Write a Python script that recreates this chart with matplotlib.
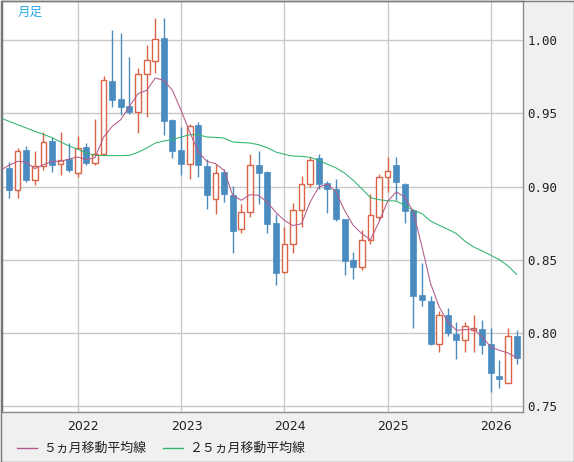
import matplotlib
matplotlib.use('Agg')
import matplotlib.pyplot as plt
import numpy as np
from matplotlib.lines import Line2D
from matplotlib.patches import Rectangle

# monthly candles, May 2021 .. Apr 2026
opens = [0.9128, 0.8980, 0.9248, 0.9048, 0.9143, 0.9310, 0.9155, 0.9187, 0.9093, 0.9269,
         0.9162, 0.9223, 0.9720, 0.9597, 0.9549, 0.9512, 0.9772, 0.9861, 1.0013, 0.9453,
         0.9248, 0.9155, 0.9419, 0.9139, 0.8916, 0.9098, 0.8941, 0.8711, 0.8829, 0.9146,
         0.9098, 0.8750, 0.8417, 0.8608, 0.8843, 0.9016, 0.9194, 0.9023, 0.8982, 0.8779,
         0.8497, 0.8451, 0.8633, 0.8793, 0.9068, 0.9146, 0.9016, 0.8838, 0.8260, 0.8217,
         0.7928, 0.8121, 0.7991, 0.7955, 0.8023, 0.8030, 0.7923, 0.7709, 0.7661, 0.7982]
highs = [0.9166, 0.9262, 0.9278, 0.9241, 0.9371, 0.9337, 0.9371, 0.9296, 0.9344, 0.9296,
         0.9460, 0.9758, 1.0068, 1.0047, 0.9883, 0.9808, 0.9965, 1.0150, 1.0150, 0.9460,
         0.9408, 0.9430, 0.9439, 0.9191, 0.9157, 0.9118, 0.9002, 0.8879, 0.9225, 0.9241,
         0.9109, 0.8816, 0.8727, 0.8888, 0.9073, 0.9203, 0.9221, 0.9036, 0.9050, 0.8781,
         0.8551, 0.8702, 0.8952, 0.9084, 0.9200, 0.9200, 0.9027, 0.8850, 0.8476, 0.8251,
         0.8148, 0.8171, 0.8076, 0.8073, 0.8121, 0.8087, 0.8037, 0.7814, 0.8037, 0.8019]
lows = [0.8923, 0.8923, 0.9032, 0.9011, 0.9112, 0.9098, 0.9080, 0.9098, 0.9066, 0.9148,
        0.9148, 0.9214, 0.9544, 0.9487, 0.9496, 0.9367, 0.9476, 0.9776, 0.9353, 0.9196,
        0.9080, 0.9050, 0.9066, 0.8845, 0.8813, 0.8893, 0.8547, 0.8684, 0.8793, 0.8884,
        0.8684, 0.8328, 0.8410, 0.8549, 0.8724, 0.8998, 0.8982, 0.8820, 0.8763, 0.8394,
        0.8369, 0.8433, 0.8608, 0.8770, 0.8964, 0.8911, 0.8752, 0.8035, 0.8185, 0.7916,
        0.7871, 0.7978, 0.7823, 0.7873, 0.7873, 0.7859, 0.7597, 0.7625, 0.7661, 0.7786]
closes = [0.8975, 0.9246, 0.9043, 0.9143, 0.9307, 0.9146, 0.9184, 0.9112, 0.9266, 0.9162,
          0.9223, 0.9731, 0.9592, 0.9544, 0.9512, 0.9772, 0.9867, 1.0011, 0.9449, 0.9244,
          0.9155, 0.9417, 0.9148, 0.8943, 0.9096, 0.8950, 0.8697, 0.8829, 0.9150, 0.9093,
          0.8745, 0.8410, 0.8611, 0.8843, 0.9016, 0.9184, 0.9018, 0.8984, 0.8777, 0.8492,
          0.8451, 0.8633, 0.8809, 0.9068, 0.9109, 0.9032, 0.8834, 0.8253, 0.8226, 0.7923,
          0.8121, 0.8000, 0.7953, 0.8051, 0.8037, 0.7921, 0.7727, 0.7689, 0.7982, 0.7830]

# moving averages, Apr 2021 .. Apr 2026 (first point is just off the left edge)
ma5 = [0.9112, 0.9146, 0.9173, 0.9168, 0.9123, 0.9150, 0.9173, 0.9173, 0.9189, 0.9203,
       0.9184, 0.9198, 0.9339, 0.9412, 0.9458, 0.9549, 0.9635, 0.9658, 0.9742, 0.9726,
       0.9658, 0.9521, 0.9373, 0.9237, 0.9173, 0.9157, 0.9112, 0.8941, 0.8907, 0.8945,
       0.8941, 0.8895, 0.8825, 0.8770, 0.8734, 0.8747, 0.8895, 0.8998, 0.9016, 0.8964,
       0.8838, 0.8736, 0.8679, 0.8638, 0.8759, 0.8900, 0.8964, 0.8929, 0.8827, 0.8588,
       0.8337, 0.8178, 0.8076, 0.8019, 0.8023, 0.8030, 0.7973, 0.7905, 0.7882, 0.7864,
       0.7832]
ma25 = [0.9471, 0.9446, 0.9424, 0.9401, 0.9378, 0.9357, 0.9335, 0.9305, 0.9278, 0.9255,
        0.9230, 0.9214, 0.9212, 0.9212, 0.9212, 0.9214, 0.9235, 0.9264, 0.9298, 0.9312,
        0.9321, 0.9339, 0.9355, 0.9355, 0.9339, 0.9337, 0.9332, 0.9305, 0.9301, 0.9298,
        0.9287, 0.9266, 0.9237, 0.9221, 0.9209, 0.9207, 0.9200, 0.9180, 0.9153, 0.9128,
        0.9093, 0.9043, 0.8986, 0.8925, 0.8911, 0.8904, 0.8902, 0.8872, 0.8838, 0.8816,
        0.8765, 0.8736, 0.8709, 0.8679, 0.8627, 0.8588, 0.8561, 0.8531, 0.8501, 0.8458,
        0.8401]

years = ['2022', '2023', '2024', '2025', '2026']
year_idx = [8, 20, 32, 44, 56]  # January candles
yticks = [0.75, 0.80, 0.85, 0.90, 0.95, 1.00]

up_col = '#dc6446'
down_col = '#4b8cc0'
ma5_col = '#b45a8a'
ma25_col = '#2fb46e'
grid_col = '#c8c8c8'
border_col = '#7c7c7c'
cjk = ['Noto Sans CJK JP', 'DejaVu Sans']

W, H = 574, 462
fig = plt.figure(figsize=(W / 100, H / 100), dpi=100, facecolor='#f0f0f0')
ax = fig.add_axes([1.5 / W, (H - 412) / H, (523.3 - 1.5) / W, 411 / H])
ax.set_facecolor('white')

x = np.arange(len(opens))
o = np.array(opens); c = np.array(closes)
up = c >= o

ax.vlines(x[up], np.array(lows)[up], np.array(highs)[up], color=up_col, lw=1.0, zorder=3)
ax.vlines(x[~up], np.array(lows)[~up], np.array(highs)[~up], color=down_col, lw=1.0, zorder=3)
ax.bar(x[up], (c - o)[up], bottom=o[up], width=0.66, facecolor='white',
       edgecolor=up_col, linewidth=1.0, zorder=4)
ax.bar(x[~up], (o - c)[~up], bottom=c[~up], width=0.70, facecolor=down_col,
       edgecolor=down_col, linewidth=0.5, zorder=4)

ma_x = np.arange(-1, len(opens))
ax.plot(ma_x, ma25, color=ma25_col, lw=0.75, zorder=5)
ax.plot(ma_x, ma5, color=ma5_col, lw=0.75, zorder=5)

ax.set_xlim(-0.87, 59.77)
ax.set_ylim(0.7461, 1.0268)

for v in yticks:
    ax.axhline(v, color=grid_col, lw=1.0, zorder=1)
for i in year_idx:
    ax.axvline(i, color=grid_col, lw=1.0, zorder=1)

ax.set_xticks([])
ax.yaxis.tick_right()
ax.set_yticks(yticks)
ax.set_yticklabels(['%.2f' % v for v in yticks], family='DejaVu Sans Mono', fontsize=9)
ax.tick_params(axis='y', length=0, pad=3, colors='#222222')

for s in ['left', 'top']:
    ax.spines[s].set_color('#6e6e6e')
for s in ['right', 'bottom']:
    ax.spines[s].set_color('#8a8a8a')
for s in ax.spines.values():
    s.set_linewidth(1.0)

# year labels sit a little right of the January gridline
for i, lab in zip(year_idx, years):
    ax.annotate(lab, xy=(i, 0), xycoords=('data', 'axes fraction'),
                xytext=(5.5, -14), textcoords='offset pixels',
                ha='center', va='center', fontsize=9, color='#222222')

ax.text(16 / 521.8, 1 - 11 / 411, '月足', transform=ax.transAxes, family=cjk,
        fontsize=9, color='#2aa8e4', va='center', ha='left')

# legend at the bottom
ly = (H - 448) / H
fig.add_artist(Line2D([16.5 / W, 36.6 / W], [ly, ly], color=ma5_col, lw=1.0))
fig.text(43 / W, ly, '５ヵ月移動平均線', family=cjk, fontsize=9.3, va='center', color='#222222')
fig.add_artist(Line2D([163 / W, 183 / W], [ly, ly], color=ma25_col, lw=1.0))
fig.text(189 / W, ly, '２５ヵ月移動平均線', family=cjk, fontsize=9.3, va='center', color='#222222')

fig.add_artist(Rectangle((0.5 / W, 0.5 / H), (W - 1) / W, (H - 1) / H, transform=fig.transFigure,
                         fill=False, edgecolor=border_col, lw=1.0))

fig.savefig('out.png', dpi=100, facecolor=fig.get_facecolor())
